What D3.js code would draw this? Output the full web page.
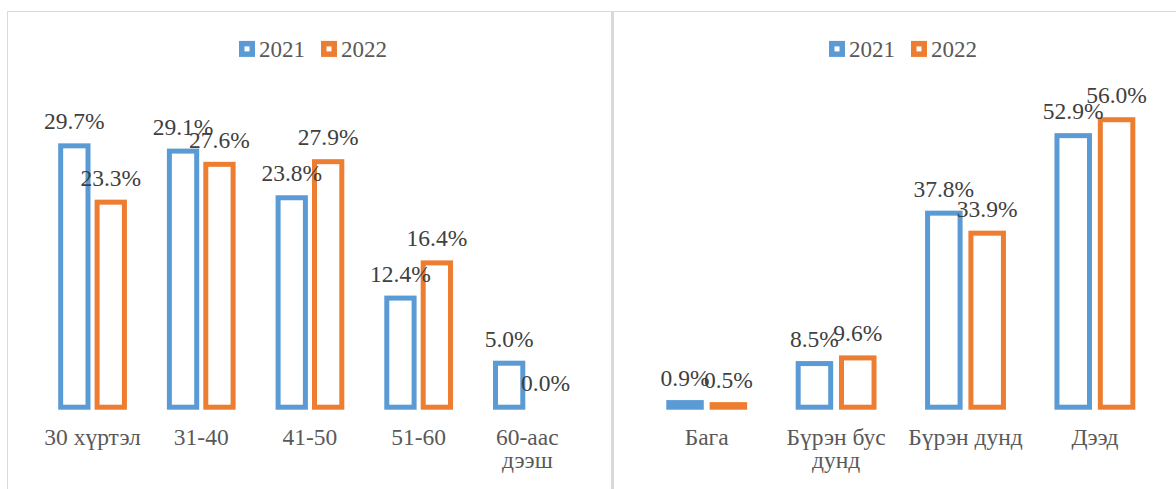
<!DOCTYPE html>
<html>
<head>
<meta charset="utf-8">
<script src="https://cdn.jsdelivr.net/npm/d3@7"></script>
<style>
	body { margin: 0; background: #fff; }
	.val { font-size: 23.5px; fill: #404040; }
	.cat { font-size: 23.5px; fill: #595959; }
	.legend text { font-size: 23px; fill: #595959; }
</style>
</head>
<body>
<svg id="chart" width="1176" height="489" font-family="'Liberation Serif', Tinos, 'Times New Roman', 'DejaVu Serif', serif"></svg>
<script>
/*
** Data: age groups and education level, 2021 vs 2022 (percent)
*/
var years = ["2021", "2022"];
var colors = ["#5b9bd5", "#ed7d31"];

var ageCats = ["30 хүртэл", "31-40", "41-50", "51-60", "60-аас дээш"];
var age2021 = [29.7, 29.1, 23.8, 12.4, 5.0];
var age2022 = [23.3, 27.6, 27.9, 16.4, 0.0];

var eduCats = ["Бага", "Бүрэн бус дунд", "Бүрэн дунд", "Дээд"];
var edu2021 = [0.9, 8.5, 37.8, 52.9];
var edu2022 = [0.5, 9.6, 33.9, 56.0];

var svg = d3.select("#chart");

// panel borders
svg.append("line")
	.attr("x1", 7.5).attr("x2", 1176)
	.attr("y1", 11.5).attr("y2", 11.5)
	.attr("stroke", "#d9d9d9");
svg.append("line")
	.attr("x1", 7.5).attr("x2", 7.5)
	.attr("y1", 11.5).attr("y2", 489)
	.attr("stroke", "#d9d9d9");
svg.append("rect")
	.attr("x", 611).attr("y", 11)
	.attr("width", 3).attr("height", 478)
	.attr("fill", "#d9d9d9");

drawChart(ageCats, [age2021, age2022], 38.2, 581.7, 35, 313);
drawChart(eduCats, [edu2021, edu2022], 642, 1159.6, 60, 903);

/*
** Draws one clustered bar chart with its legend.
*/
function drawChart(cats, series, left, right, yMax, legendCx) {
	var g = svg.append("g");

	var y = d3.scaleLinear()
		.domain([0, yMax])
		.range([407.2, 99.2]);

	var x0 = d3.scaleBand()
		.domain(cats)
		.range([left, right]);

	var groupW = x0.bandwidth() * 0.67;

	var x1 = d3.scaleBand()
		.domain(years)
		.range([0, groupW])
		.paddingInner(0.25)
		.paddingOuter(0.125);

	var rows = [];
	cats.forEach(function(c, i) {
		years.forEach(function(yr, j) {
			rows.push({cat: c, year: yr, value: series[j][i], color: colors[j]});
		});
	});

	function barX(d) {
		return x0(d.cat) + (x0.bandwidth() - groupW) / 2 + x1(d.year);
	}

	// bars (outlined)
	g.selectAll("rect.bar")
		.data(rows)
		.enter()
		.append("rect")
			.attr("class", "bar")
			.attr("x", barX)
			.attr("y", function(d) { return y(d.value); })
			.attr("width", x1.bandwidth())
			.attr("height", function(d) { return y(0) - y(d.value); })
			.attr("fill", "#fff")
			.attr("stroke", function(d) { return d.color; })
			.attr("stroke-width", 5);

	// value labels
	g.selectAll("text.val")
		.data(rows)
		.enter()
		.append("text")
			.attr("class", "val")
			.attr("text-anchor", "middle")
			.attr("x", function(d) { return barX(d) + x1.bandwidth() / 2; })
			.attr("y", function(d) { return y(d.value) - 16.5; })
			.text(function(d) { return d3.format(".1f")(d.value) + "%"; });

	// category labels, wrapped to the band width
	var labels = g.selectAll("text.cat")
		.data(cats)
		.enter()
		.append("text")
			.attr("class", "cat")
			.attr("text-anchor", "middle")
			.attr("x", function(d) { return x0(d) + x0.bandwidth() / 2; })
			.attr("y", 445);

	labels.each(function(d) {
		var text = d3.select(this);
		var words = d.split(" ");
		var lines = [];
		var line = [];
		var tspan = text.append("tspan");
		words.forEach(function(w) {
			line.push(w);
			tspan.text(line.join(" "));
			if (tspan.node().getComputedTextLength() > x0.bandwidth() - 4 && line.length > 1) {
				line.pop();
				lines.push(line.join(" "));
				line = [w];
			}
		});
		lines.push(line.join(" "));
		tspan.remove();
		var cx = text.attr("x");
		lines.forEach(function(l, k) {
			text.append("tspan")
				.attr("x", cx)
				.attr("dy", k === 0 ? 0 : 22.5)
				.text(l);
		});
	});

	// legend
	var legend = g.append("g").attr("class", "legend");
	var items = legend.selectAll("g")
		.data(years)
		.enter()
		.append("g");

	items.append("rect")
		.attr("x", 2.75)
		.attr("y", 43.65)
		.attr("width", 10.5)
		.attr("height", 10.5)
		.attr("fill", "#fff")
		.attr("stroke", function(d, i) { return colors[i]; })
		.attr("stroke-width", 5.5);

	items.append("text")
		.attr("x", 20)
		.attr("y", 57)
		.text(function(d) { return d; });

	var widths = [];
	items.select("text").each(function() {
		widths.push(20 + this.getComputedTextLength());
	});
	var gap = 16;
	var total = d3.sum(widths) + gap * (widths.length - 1);
	var pos = legendCx - total / 2;
	items.attr("transform", function(d, i) {
		var t = "translate(" + pos + ",0)";
		pos += widths[i] + gap;
		return t;
	});
}
</script>
</body>
</html>
